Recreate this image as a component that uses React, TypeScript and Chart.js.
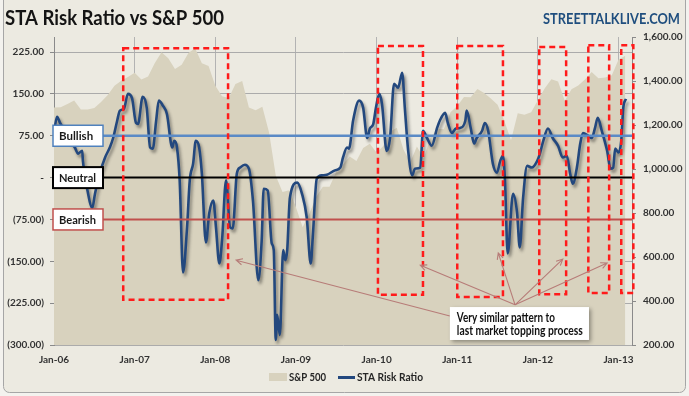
import React, { useEffect, useRef } from "react";
import { Chart, registerables } from "chart.js";

Chart.register(...registerables);

// ---------- DATA ----------
const yearLabels = ["Jan-06", "Jan-07", "Jan-08", "Jan-09", "Jan-10", "Jan-11", "Jan-12", "Jan-13"];

// S&P 500 monthly (month index 0 = Jan-06)
const spxValues = [
  1280, 1281, 1295, 1311, 1270, 1270, 1277, 1304, 1336, 1378, 1401, 1418,
  1438, 1407, 1421, 1482, 1531, 1503, 1455, 1474, 1527, 1549, 1481, 1468,
  1378, 1331, 1323, 1386, 1400, 1280, 1267, 1283, 1166, 969, 896, 903,
  826, 735, 798, 873, 919, 919, 987, 1021, 1057, 1036, 1096, 1115,
  1074, 1104, 1169, 1187, 1089, 1031, 1102, 1049, 1141, 1183, 1181, 1258,
  1286, 1327, 1326, 1364, 1345, 1321, 1292, 1219, 1131, 1253, 1247, 1258,
  1312, 1366, 1408, 1398, 1310, 1362, 1379, 1407, 1441, 1412, 1416, 1426,
  1498, 1515,
];

// STA Risk Ratio: time in months since Jan-06, and value
const riskMonths = [
  0.0, 0.45, 0.9, 1.6, 2.4, 3.1, 3.6, 4.2, 4.3, 4.9, 5.7, 6.1, 6.8, 7.6, 8.3, 8.8, 9.4, 9.8,
  10.4, 11.0, 11.6, 12.2, 12.5, 13.2, 13.8, 14.3, 14.7, 15.2, 15.6, 16.2, 16.8, 17.6, 17.9,
  18.3, 18.7, 19.2, 19.8, 20.2, 20.7, 21.1, 21.6, 22.0, 22.6, 23.1, 23.7, 24.1, 24.6, 25.0,
  25.6, 26.2, 26.6, 27.2, 27.7, 28.4, 29.0, 29.6, 30.4, 30.9, 31.2, 31.8, 32.4, 32.7, 33.0,
  33.2, 33.6, 34.1, 34.4, 34.7, 35.1, 36.2, 36.9, 37.6, 38.2, 38.5, 39.1, 39.9, 40.6, 41.8,
  42.6, 43.0, 43.6, 43.9, 44.5, 45.4, 46.0, 46.6, 47.0, 47.5, 47.9, 48.4, 48.8, 49.5, 50.0,
  50.6, 51.2, 51.8, 52.2, 52.7, 53.3, 53.7, 54.5, 54.9, 55.5, 56.2, 57.0, 57.4, 58.2, 58.6,
  59.2, 59.8, 60.4, 61.2, 61.4, 62.0, 62.5, 62.9, 63.7, 64.1, 64.6, 65.3, 65.9, 66.4, 66.8,
  67.1, 67.5, 68.3, 68.9, 69.3, 69.8, 70.4, 71.1, 71.9, 72.3, 72.8, 73.5, 74.2, 75.0, 75.7,
  76.3, 76.8, 77.2, 77.8, 78.3, 78.7, 79.5, 80.0, 80.5, 80.9, 81.5, 82.3, 82.8, 83.2, 83.5,
  84.0, 84.4, 84.7, 85.1,
];
const riskValues = [
  80, 109, 98, 84, 66, 54, 43, 48, 30, -18, -54, -29, 7, 36, 54, 71, 102, 120,
  123, 150, 143, 98, 96, 145, 125, 54, 52, 102, 138, 129, 114, 54, 66,
  54, -5, -170, -89, -5, 25, 66, 54, 7, -116, -64, -41, -89, -154, -113,
  -5, -89, -91, 7, 18, 23, 16, -41, -184, -113, -20, -23, -118, -130, -291,
  -246, -282, -130, -148, -130, -36, -9, -29, -71, -154, -107, -2, 4, 5, 13,
  18, 36, 54, 52, 102, 138, 125, 71, 88, 96, 125, 150, 132, 48, 71,
  168, 161, 188, 125, 48, 4, 16, 18, 84, 71, 57, 89, 102, 116, 98,
  80, 88, 89, 102, 120, 89, 61, 71, 84, 98, 84, 25, 9, 30, 39,
  -5, -136, -29, -63, -125, -36, 21, 18, 30, 43, 66, 88, 71, 57, 36,
  39, 7, -11, 18, 61, 80, 75, 71, 89, 107, 84, 48, 16, 18, 52,
  45, 66, 125, 141,
];

const leftTicks = [-300, -225, -150, -75, 0, 75, 150, 225];
const rightTicks = [200, 400, 600, 800, 1000, 1200, 1400, 1600];

// reference levels
const levelNames = ["Bullish", "Neutral", "Bearish"];
const levelValues = [75, 0, -75];
const levelColors = ["#5A8AC6", "#000000", "#C0504D"];
const levelBorderColors = ["#4F81BD", "#000000", "#C0504D"];

// red dashed highlight boxes (months, left-axis values)
const boxStart = [10.3, 48.2, 60.0, 72.2, 79.5, 84.4];
const boxEnd = [25.9, 54.9, 66.8, 76.2, 82.6, 86.2];
const boxTop = [232, 236, 236, 234, 237, 237];
const boxBottom = [-219, -210, -214, -209, -207, -207];

// annotation arrows (from -> to), months / left-axis values
const arrowFromM = [58.9, 68.6, 68.6, 68.6, 68.6];
const arrowFromV = [-248, -228, -228, -228, -228];
const arrowToM = [27.1, 54.5, 66.1, 75.7, 82.3];
const arrowToV = [-148, -157, -135, -146, -153];

const noteLines = ["Very similar pattern to", "last market topping process"];
const noteBoxM = [58.9, 79.6];
const noteBoxV = [-232, -291];

const FONT = "Lato, 'Open Sans', sans-serif";
const NAVY = "#23487E";
const TAN = "#D8D2BE";

const fmtLeft = (v: number) =>
  v === 0 ? "-" : v < 0 ? `(${Math.abs(v).toFixed(2)})` : v.toFixed(2);
const fmtRight = (v: number) =>
  v.toLocaleString("en-US", { minimumFractionDigits: 2, maximumFractionDigits: 2 });

function drawFitted(ctx: CanvasRenderingContext2D, text: string, x: number, y: number, target: number) {
  const w = ctx.measureText(text).width;
  const s = w > target ? target / w : 1;
  ctx.save();
  ctx.translate(x, y);
  ctx.scale(s, 1);
  ctx.fillText(text, 0, 0);
  ctx.restore();
}

function drawArrow(ctx: CanvasRenderingContext2D, x1: number, y1: number, x2: number, y2: number) {
  ctx.beginPath();
  ctx.moveTo(x1, y1);
  ctx.lineTo(x2, y2);
  const a = Math.atan2(y2 - y1, x2 - x1);
  const L = 7;
  ctx.moveTo(x2 - L * Math.cos(a - 0.45), y2 - L * Math.sin(a - 0.45));
  ctx.lineTo(x2, y2);
  ctx.lineTo(x2 - L * Math.cos(a + 0.45), y2 - L * Math.sin(a + 0.45));
  ctx.stroke();
}

const overlayPlugin = {
  id: "overlay",
  beforeDraw(chart: any) {
    const { ctx, width, height } = chart;
    ctx.save();
    ctx.fillStyle = "#F3F2EE";
    ctx.fillRect(0, 0, width, height);
    ctx.fillStyle = "#ECEAE1";
    ctx.strokeStyle = "#A6A6A6";
    ctx.lineWidth = 1;
    ctx.beginPath();
    (ctx as any).roundRect(3.5, -6, 682, 398.5, 6);
    ctx.fill();
    ctx.stroke();
    ctx.restore();
  },
  beforeDatasetDraw(chart: any, args: any) {
    const ctx = chart.ctx;
    ctx.save();
    if (args.index === 0) {
      ctx.shadowColor = "rgba(30,30,30,0.45)";
      ctx.shadowBlur = 3;
      ctx.shadowOffsetX = 2;
      ctx.shadowOffsetY = 3;
    } else {
      ctx.shadowColor = "rgba(60,60,50,0.35)";
      ctx.shadowBlur = 3;
      ctx.shadowOffsetX = 2;
      ctx.shadowOffsetY = 2;
    }
  },
  afterDatasetDraw(chart: any) {
    chart.ctx.restore();
  },
  afterDraw(chart: any) {
    const { ctx, chartArea } = chart;
    const xs = chart.scales.x;
    const yl = chart.scales.yL;
    ctx.save();

    // level lines + labels
    const boxL = chartArea.left - 1;
    const boxW = 50;
    const boxH = 21;
    levelValues.forEach((v, i) => {
      const y = yl.getPixelForValue(v);
      ctx.strokeStyle = levelColors[i];
      ctx.lineWidth = i === 0 ? 2.5 : 2;
      ctx.beginPath();
      ctx.moveTo(boxL + boxW, y);
      ctx.lineTo(chartArea.right, y);
      ctx.stroke();
      ctx.fillStyle = "#FFFFFF";
      ctx.fillRect(boxL, y - boxH / 2, boxW, boxH);
      ctx.strokeStyle = levelBorderColors[i];
      ctx.lineWidth = i === 1 ? 2 : 1.5;
      ctx.strokeRect(boxL, y - boxH / 2, boxW, boxH);
      ctx.fillStyle = "#1A1A1A";
      ctx.font = `bold 11.5px ${FONT}`;
      ctx.textBaseline = "middle";
      ctx.textAlign = "left";
      drawFitted(ctx, levelNames[i], boxL + 6, y + 0.5, 37);
    });

    // dashed red boxes
    ctx.strokeStyle = "#FF1A1A";
    ctx.lineWidth = 2.5;
    ctx.setLineDash([6, 4]);
    boxStart.forEach((m, i) => {
      const x1 = xs.getPixelForValue(m);
      const x2 = xs.getPixelForValue(boxEnd[i]);
      const y1 = yl.getPixelForValue(boxTop[i]);
      const y2 = yl.getPixelForValue(boxBottom[i]);
      ctx.strokeRect(x1, y1, x2 - x1, y2 - y1);
    });
    ctx.setLineDash([]);

    // arrows
    ctx.strokeStyle = "#B77C78";
    ctx.lineWidth = 1.1;
    arrowFromM.forEach((m, i) => {
      drawArrow(
        ctx,
        xs.getPixelForValue(m),
        yl.getPixelForValue(arrowFromV[i]),
        xs.getPixelForValue(arrowToM[i]),
        yl.getPixelForValue(arrowToV[i])
      );
    });

    // note box
    const nx1 = xs.getPixelForValue(noteBoxM[0]);
    const nx2 = xs.getPixelForValue(noteBoxM[1]);
    const ny1 = yl.getPixelForValue(noteBoxV[0]);
    const ny2 = yl.getPixelForValue(noteBoxV[1]);
    ctx.save();
    ctx.shadowColor = "rgba(0,0,0,0.35)";
    ctx.shadowBlur = 4;
    ctx.shadowOffsetX = 2;
    ctx.shadowOffsetY = 2;
    ctx.fillStyle = "#FFFFFF";
    ctx.fillRect(nx1, ny1, nx2 - nx1, ny2 - ny1);
    ctx.restore();
    ctx.fillStyle = "#111111";
    ctx.font = `bold 12.5px ${FONT}`;
    ctx.textAlign = "left";
    ctx.textBaseline = "middle";
    drawFitted(ctx, noteLines[0], nx1 + 7, ny1 + 11, 98);
    drawFitted(ctx, noteLines[1], nx1 + 7, ny1 + 23.5, 126);

    // title
    ctx.fillStyle = "#141414";
    ctx.font = `bold 20px ${FONT}`;
    ctx.textBaseline = "alphabetic";
    drawFitted(ctx, "STA Risk Ratio vs S&P 500", 5, 25, 219);
    ctx.fillStyle = "#1F4E7E";
    ctx.font = `bold 15.5px ${FONT}`;
    drawFitted(ctx, "STREETTALKLIVE.COM", 543, 24, 137);

    // legend
    ctx.fillStyle = TAN;
    ctx.fillRect(269, 373, 18, 8);
    ctx.strokeStyle = NAVY;
    ctx.lineWidth = 3;
    ctx.beginPath();
    ctx.moveTo(338, 377.5);
    ctx.lineTo(355, 377.5);
    ctx.stroke();
    ctx.fillStyle = "#262626";
    ctx.font = `bold 10.5px ${FONT}`;
    ctx.textBaseline = "middle";
    drawFitted(ctx, "S&P 500", 289, 377.5, 37);
    drawFitted(ctx, "STA Risk Ratio", 357, 377.5, 66);

    ctx.restore();
  },
};

export default function App() {
  const ref = useRef<HTMLCanvasElement | null>(null);

  useEffect(() => {
    document.body.style.margin = "0";
    const canvas = ref.current;
    if (!canvas) return;
    const tickFont = { family: FONT, size: 10, weight: "bold" as const };
    const chart = new Chart(canvas, {
      type: "line",
      data: {
        datasets: [
          {
            label: "STA Risk Ratio",
            data: riskMonths.map((m, i) => ({ x: m, y: riskValues[i] })),
            yAxisID: "yL",
            borderColor: NAVY,
            borderWidth: 2.6,
            pointRadius: 0,
            fill: false,
            cubicInterpolationMode: "monotone",
            order: 1,
          },
          {
            label: "S&P 500",
            data: spxValues.map((v, i) => ({ x: i, y: v })),
            yAxisID: "yR",
            borderColor: TAN,
            borderWidth: 0,
            backgroundColor: TAN,
            pointRadius: 0,
            fill: "start",
            tension: 0,
            order: 2,
          },
        ],
      },
      options: {
        animation: false,
        responsive: false,
        devicePixelRatio: 1,
        layout: { padding: { top: 37, left: 0, right: 0, bottom: 0 } },
        plugins: { legend: { display: false }, tooltip: { enabled: false } },
        scales: {
          x: {
            type: "linear",
            min: 0,
            max: 86,
            afterBuildTicks: (a: any) => {
              a.ticks = yearLabels.map((_, i) => ({ value: i * 12 }));
            },
            ticks: {
              callback: (v: any) => yearLabels[Math.round(Number(v) / 12)] ?? "",
              font: tickFont,
              color: "#333333",
              padding: 9,
              maxRotation: 0,
              autoSkip: false,
            },
            grid: { color: "#B3B3B3", lineWidth: 1, drawTicks: false },
            border: { display: false },
            afterFit: (s: any) => {
              s.height = 51;
            },
          },
          yL: {
            type: "linear",
            position: "left",
            min: -300,
            max: 252,
            afterBuildTicks: (a: any) => {
              a.ticks = leftTicks.map((v) => ({ value: v }));
            },
            ticks: {
              callback: (v: any) => fmtLeft(Number(v)),
              font: tickFont,
              color: "#333333",
              padding: 6,
            },
            grid: { color: "#ABABAB", lineWidth: 1, tickLength: 4, tickColor: "#8A8A8A" },
            border: { color: "#8A8A8A" },
            afterFit: (s: any) => {
              s.width = 54;
            },
          },
          yR: {
            type: "linear",
            position: "right",
            min: 200,
            max: 1600,
            afterBuildTicks: (a: any) => {
              a.ticks = rightTicks.map((v) => ({ value: v }));
            },
            ticks: {
              callback: (v: any) => fmtRight(Number(v)),
              font: tickFont,
              color: "#333333",
              padding: 7,
            },
            grid: { drawOnChartArea: false, tickLength: 4, tickColor: "#8A8A8A" },
            border: { color: "#8A8A8A" },
            afterFit: (s: any) => {
              s.width = 57;
            },
          },
        },
      },
      plugins: [overlayPlugin],
    } as any);
    return () => chart.destroy();
  }, []);

  return (
    <div style={{ width: 689, height: 396 }}>
      <canvas ref={ref} width={689} height={396} style={{ width: 689, height: 396, display: "block" }} />
    </div>
  );
}
